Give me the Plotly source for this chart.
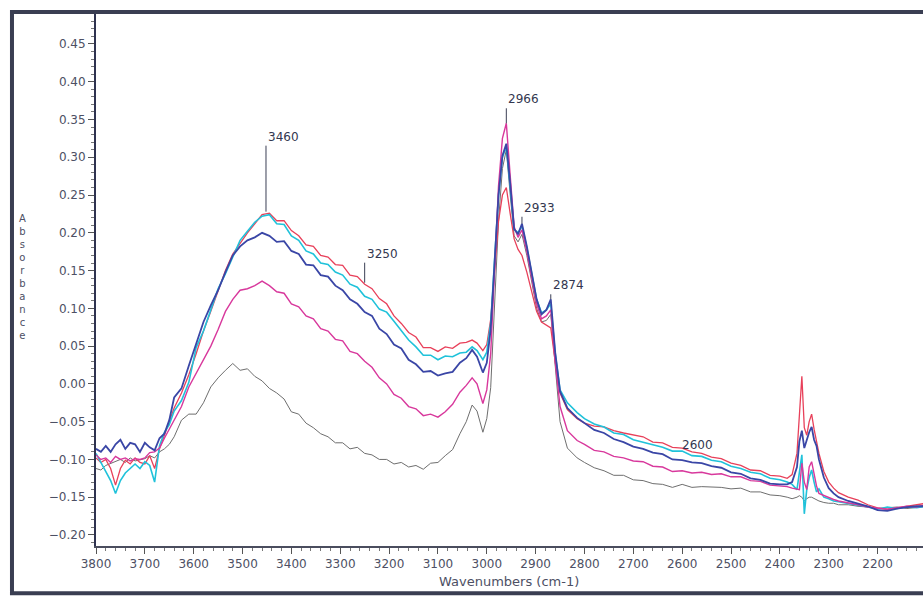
import plotly.graph_objects as go

# wavenumber grid (cm-1), shared by all five spectra
wavenumbers = [
    3800, 3790, 3780, 3770, 3760, 3750, 3740, 3730, 3720, 3710, 3700, 3690, 3680, 3670, 3660, 3650, 3640,
    3625, 3610, 3595, 3580, 3565, 3550, 3535, 3520, 3505, 3490, 3475, 3460,
    3445, 3430, 3415, 3400, 3385, 3370, 3355, 3340, 3325, 3310, 3295, 3280, 3265, 3250, 3235, 3220,
    3205, 3190, 3175, 3160, 3145, 3130, 3115, 3100, 3085, 3070, 3055,
    3042, 3030, 3020, 3008, 3000, 2992, 2984, 2976, 2968, 2960, 2952, 2944, 2936, 2928, 2918, 2908,
    2898, 2888, 2878, 2869, 2860, 2850, 2835, 2815,
    2800, 2780, 2760, 2740, 2720, 2700, 2680, 2660, 2640, 2620, 2600, 2580, 2560, 2540, 2520, 2500,
    2480, 2460, 2440, 2420, 2400,
    2385, 2375, 2365, 2360, 2355, 2350, 2345, 2340, 2335, 2330, 2325, 2320, 2310, 2300, 2290, 2280,
    2260, 2240, 2220, 2200, 2180, 2160, 2140, 2120, 2100,
]

red = [
    -0.098, -0.104, -0.100, -0.112, -0.134, -0.112, -0.101, -0.106, -0.098, -0.104, -0.106, -0.095, -0.112, -0.086, -0.068, -0.050, -0.032,
    -0.012, 0.012, 0.040, 0.070, 0.096, 0.122, 0.150, 0.172, 0.186, 0.200, 0.212, 0.224,
    0.226, 0.216, 0.216, 0.203, 0.196, 0.184, 0.182, 0.170, 0.168, 0.158, 0.157, 0.144, 0.142, 0.132, 0.126, 0.113,
    0.106, 0.090, 0.080, 0.068, 0.062, 0.048, 0.048, 0.043, 0.049, 0.047, 0.054,
    0.055, 0.058, 0.054, 0.044, 0.052, 0.085, 0.150, 0.215, 0.250, 0.260, 0.225, 0.192, 0.178, 0.170, 0.148, 0.122,
    0.096, 0.082, 0.078, 0.074, 0.030, -0.012, -0.034, -0.046,
    -0.052, -0.056, -0.057, -0.062, -0.065, -0.067, -0.070, -0.077, -0.078, -0.084, -0.085, -0.090, -0.092, -0.097, -0.099, -0.105,
    -0.108, -0.114, -0.115, -0.121, -0.122,
    -0.125, -0.120, -0.092, -0.040, 0.010, -0.058, -0.068, -0.050, -0.040, -0.060, -0.076, -0.092, -0.116, -0.130, -0.138, -0.144,
    -0.150, -0.154, -0.160, -0.164, -0.166, -0.164, -0.162, -0.160, -0.158,
]

cyan = [
    -0.092, -0.104, -0.118, -0.128, -0.145, -0.128, -0.118, -0.112, -0.106, -0.112, -0.103, -0.108, -0.130, -0.082, -0.064, -0.054, -0.036,
    -0.022, 0.002, 0.048, 0.070, 0.098, 0.126, 0.146, 0.168, 0.190, 0.202, 0.214, 0.222,
    0.224, 0.212, 0.211, 0.196, 0.190, 0.176, 0.172, 0.160, 0.158, 0.148, 0.144, 0.132, 0.128, 0.116, 0.112, 0.099,
    0.095, 0.083, 0.070, 0.058, 0.049, 0.038, 0.038, 0.032, 0.037, 0.036, 0.041,
    0.042, 0.049, 0.044, 0.032, 0.042, 0.080, 0.165, 0.250, 0.300, 0.314, 0.260, 0.205, 0.200, 0.209, 0.180, 0.145,
    0.112, 0.094, 0.098, 0.106, 0.040, -0.008, -0.025, -0.038,
    -0.046, -0.053, -0.057, -0.065, -0.067, -0.074, -0.077, -0.081, -0.084, -0.089, -0.089, -0.095, -0.096, -0.101, -0.103, -0.109,
    -0.112, -0.117, -0.119, -0.125, -0.127,
    -0.130, -0.133, -0.140, -0.120, -0.094, -0.172, -0.140, -0.124, -0.114, -0.130, -0.143, -0.139, -0.150, -0.152, -0.155, -0.156,
    -0.158, -0.160, -0.163, -0.166, -0.163, -0.165, -0.163, -0.164, -0.162,
]

dark_blue = [
    -0.086, -0.090, -0.082, -0.090, -0.080, -0.074, -0.086, -0.078, -0.080, -0.090, -0.078, -0.084, -0.088, -0.072, -0.066, -0.048, -0.018,
    -0.006, 0.024, 0.054, 0.082, 0.104, 0.124, 0.148, 0.170, 0.182, 0.190, 0.194, 0.200,
    0.196, 0.188, 0.189, 0.176, 0.172, 0.158, 0.157, 0.144, 0.142, 0.130, 0.124, 0.112, 0.106, 0.095, 0.090, 0.073,
    0.066, 0.052, 0.047, 0.032, 0.026, 0.016, 0.017, 0.011, 0.014, 0.016, 0.028,
    0.034, 0.045, 0.036, 0.015, 0.028, 0.072, 0.160, 0.250, 0.302, 0.318, 0.265, 0.205, 0.198, 0.212, 0.182, 0.146,
    0.112, 0.092, 0.098, 0.112, 0.042, -0.010, -0.032, -0.045,
    -0.052, -0.061, -0.065, -0.073, -0.077, -0.083, -0.086, -0.091, -0.093, -0.100, -0.101, -0.104, -0.105, -0.109, -0.111, -0.117,
    -0.119, -0.125, -0.127, -0.132, -0.133,
    -0.133, -0.130, -0.110, -0.076, -0.062, -0.085, -0.074, -0.064, -0.057, -0.074, -0.082, -0.100, -0.124, -0.138, -0.145, -0.150,
    -0.155, -0.158, -0.162, -0.167, -0.168, -0.165, -0.163, -0.162, -0.162,
]

magenta = [
    -0.094, -0.100, -0.098, -0.104, -0.096, -0.100, -0.098, -0.102, -0.099, -0.100, -0.098, -0.091, -0.090, -0.085, -0.072, -0.060, -0.048,
    -0.030, -0.004, 0.014, 0.030, 0.050, 0.072, 0.096, 0.112, 0.124, 0.126, 0.130, 0.136,
    0.130, 0.122, 0.120, 0.106, 0.102, 0.090, 0.086, 0.073, 0.070, 0.059, 0.057, 0.043, 0.040, 0.030, 0.022, 0.008,
    0.000, -0.014, -0.019, -0.030, -0.033, -0.042, -0.040, -0.044, -0.037, -0.027, -0.011,
    -0.002, 0.008, 0.000, -0.026, -0.008, 0.040, 0.150, 0.262, 0.325, 0.345, 0.275, 0.208, 0.194, 0.204, 0.175, 0.138,
    0.106, 0.086, 0.090, 0.098, 0.030, -0.030, -0.062, -0.075,
    -0.080, -0.088, -0.090, -0.096, -0.098, -0.102, -0.103, -0.109, -0.110, -0.116, -0.115, -0.118, -0.117, -0.120, -0.119, -0.123,
    -0.123, -0.128, -0.129, -0.134, -0.135,
    -0.136, -0.138, -0.140, -0.140, -0.105, -0.130, -0.140, -0.110, -0.103, -0.120, -0.135, -0.145, -0.148, -0.150, -0.153, -0.155,
    -0.158, -0.160, -0.163, -0.165, -0.166, -0.164, -0.162, -0.163, -0.160,
]

grey = [
    -0.112, -0.114, -0.108, -0.105, -0.102, -0.100, -0.104, -0.098, -0.102, -0.100, -0.099, -0.095, -0.098, -0.090, -0.086, -0.080, -0.070,
    -0.048, -0.040, -0.040, -0.025, -0.004, 0.008, 0.018, 0.027, 0.018, 0.020, 0.010, 0.004,
    -0.006, -0.012, -0.020, -0.037, -0.040, -0.052, -0.058, -0.066, -0.070, -0.078, -0.078, -0.086, -0.084, -0.092, -0.094, -0.100,
    -0.100, -0.106, -0.104, -0.110, -0.108, -0.113, -0.105, -0.104, -0.095, -0.087, -0.066,
    -0.050, -0.028, -0.036, -0.064, -0.046, -0.005, 0.100, 0.215, 0.285, 0.310, 0.250, 0.196, 0.188, 0.198, 0.170, 0.132,
    0.100, 0.082, 0.084, 0.092, 0.020, -0.050, -0.085, -0.098,
    -0.104, -0.111, -0.115, -0.121, -0.121, -0.127, -0.128, -0.132, -0.133, -0.137, -0.133, -0.137, -0.136, -0.136, -0.137, -0.139,
    -0.138, -0.143, -0.143, -0.147, -0.148,
    -0.150, -0.152, -0.150, -0.148, -0.150, -0.155, -0.152, -0.150, -0.150, -0.152, -0.153, -0.155, -0.157, -0.158, -0.158, -0.160,
    -0.160, -0.162, -0.163, -0.165, -0.164, -0.163, -0.165, -0.163, -0.162,
]

# peak labels: text, position (cm-1), absorbance at the mark, leader length (px)
peak_labels = ["3460", "3250", "2966", "2933", "2874"]
peak_x = [3452, 3250, 2960, 2928, 2869]
peak_y = [0.228, 0.134, 0.345, 0.212, 0.112]
peak_len = [66, 20, 15, 7, 5]

series = [
    ("grey", grey, "#6e6e6e", 1.0),
    ("red", red, "#e8405a", 1.3),
    ("cyan", cyan, "#20c2da", 1.6),
    ("magenta", magenta, "#d8389c", 1.4),
    ("dark blue", dark_blue, "#3a46a6", 1.8),
]

fig = go.Figure()
for name, vals, color, w in series:
    fig.add_trace(go.Scatter(x=wavenumbers, y=vals, mode="lines", name=name,
                             line=dict(color=color, width=w)))

font = "DejaVu Sans, Verdana, sans-serif"
axis_col = "#2f3350"
tick_font = dict(family=font, size=12, color="#4d5064")

fig.update_layout(
    width=923, height=597,
    margin=dict(l=96, r=0, t=13, b=51),
    paper_bgcolor="white", plot_bgcolor="white",
    showlegend=False,
    xaxis=dict(
        range=[3800, 2107], tickmode="linear", tick0=2200, dtick=100,
        ticks="outside", ticklen=6, tickcolor="#555", tickfont=tick_font,
        showgrid=False, zeroline=False, showline=True, linecolor="#4a4d5e", linewidth=2,
        minor=dict(dtick=20, ticks="outside", ticklen=3, tickcolor="#777"),
    ),
    yaxis=dict(
        range=[-0.2146, 0.491], tickmode="linear", tick0=0, dtick=0.05, tickformat=".2f",
        ticks="outside", ticklen=6, tickcolor="#555", tickfont=tick_font,
        showgrid=False, zeroline=False, showline=True, linecolor=axis_col, linewidth=2,
        minor=dict(dtick=0.01, ticks="outside", ticklen=3, tickcolor="#777"),
    ),
)

# outer scanned frame
fig.add_shape(type="rect", xref="paper", yref="paper",
              x0=-0.1016, x1=1.02, y0=-0.0885, y1=1.002,
              line=dict(color="#3a3e52", width=4))

for txt, px, py, ln in zip(peak_labels, peak_x, peak_y, peak_len):
    fig.add_annotation(x=px, y=py, text=txt, showarrow=True, arrowhead=0,
                       arrowwidth=1, arrowcolor="#3b3f55", ax=0, ay=-ln,
                       xanchor="left", yanchor="bottom", standoff=0,
                       font=dict(family=font, size=12, color="#33374f"))

fig.add_annotation(x=2604, y=-0.081, text="2600", showarrow=False,
                   xanchor="left", yanchor="middle",
                   font=dict(family=font, size=12, color="#33374f"))

fig.add_annotation(xref="paper", yref="paper", x=0.4994, y=-0.067,
                   text="Wavenumbers (cm-1)", showarrow=False,
                   yanchor="middle", font=dict(family=font, size=13, color="#4d5064"))

fig.add_annotation(xref="paper", yref="paper", x=-0.0956, y=0.504,
                   text="<br>".join("Absorbance"), showarrow=False,
                   align="center", yanchor="middle",
                   font=dict(family=font, size=10, color="#4d5064"))

# drop the default page margin so the figure sits at the window origin
fig.write_html("out.html", config={"displayModeBar": False},
               post_script="document.body.style.margin='0';")
